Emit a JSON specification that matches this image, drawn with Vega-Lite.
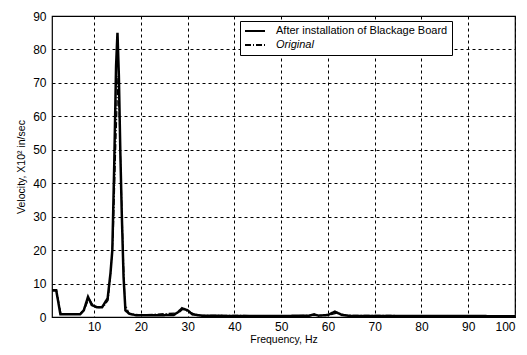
{
  "$schema": "https://vega.github.io/schema/vega-lite/v6.json",
  "autosize": {"type": "none"},
  "width": 463,
  "height": 301,
  "padding": {"left": 52, "top": 16, "right": 12, "bottom": 38},
  "background": "white",
  "config": {
    "font": "Liberation Sans",
    "view": {"stroke": "black", "strokeWidth": 1.2},
    "axis": {
      "domain": false,
      "ticks": false,
      "gridColor": "black",
      "gridOpacity": 1,
      "gridWidth": 1,
      "gridDash": [3, 3],
      "labelColor": "black",
      "labelFontSize": 12,
      "titleColor": "black",
      "titleFontSize": 10.5,
      "titleFontWeight": "normal"
    }
  },
  "data": {
    "values": [
      {"f": 1, "v": 8, "s": "After installation of Blackage Board"},
      {"f": 1.9, "v": 8, "s": "After installation of Blackage Board"},
      {"f": 2.8, "v": 0.8, "s": "After installation of Blackage Board"},
      {"f": 4, "v": 0.8, "s": "After installation of Blackage Board"},
      {"f": 7, "v": 0.8, "s": "After installation of Blackage Board"},
      {"f": 7.8, "v": 2, "s": "After installation of Blackage Board"},
      {"f": 8.7, "v": 6, "s": "After installation of Blackage Board"},
      {"f": 9.5, "v": 3.6, "s": "After installation of Blackage Board"},
      {"f": 10.6, "v": 2.9, "s": "After installation of Blackage Board"},
      {"f": 11.7, "v": 2.9, "s": "After installation of Blackage Board"},
      {"f": 12.9, "v": 5.6, "s": "After installation of Blackage Board"},
      {"f": 13.5, "v": 13, "s": "After installation of Blackage Board"},
      {"f": 13.9, "v": 20, "s": "After installation of Blackage Board"},
      {"f": 14.3, "v": 45, "s": "After installation of Blackage Board"},
      {"f": 14.7, "v": 75, "s": "After installation of Blackage Board"},
      {"f": 15.0, "v": 85, "s": "After installation of Blackage Board"},
      {"f": 15.3, "v": 72, "s": "After installation of Blackage Board"},
      {"f": 15.6, "v": 50, "s": "After installation of Blackage Board"},
      {"f": 15.9, "v": 32, "s": "After installation of Blackage Board"},
      {"f": 16.3, "v": 12, "s": "After installation of Blackage Board"},
      {"f": 16.7, "v": 2, "s": "After installation of Blackage Board"},
      {"f": 17.5, "v": 1, "s": "After installation of Blackage Board"},
      {"f": 19, "v": 0.5, "s": "After installation of Blackage Board"},
      {"f": 22, "v": 0.5, "s": "After installation of Blackage Board"},
      {"f": 27, "v": 0.6, "s": "After installation of Blackage Board"},
      {"f": 28, "v": 1.5, "s": "After installation of Blackage Board"},
      {"f": 28.8, "v": 2.6, "s": "After installation of Blackage Board"},
      {"f": 30, "v": 2, "s": "After installation of Blackage Board"},
      {"f": 31, "v": 0.8, "s": "After installation of Blackage Board"},
      {"f": 33, "v": 0.4, "s": "After installation of Blackage Board"},
      {"f": 40, "v": 0.3, "s": "After installation of Blackage Board"},
      {"f": 50, "v": 0.3, "s": "After installation of Blackage Board"},
      {"f": 56, "v": 0.4, "s": "After installation of Blackage Board"},
      {"f": 57, "v": 0.8, "s": "After installation of Blackage Board"},
      {"f": 58, "v": 0.4, "s": "After installation of Blackage Board"},
      {"f": 60, "v": 0.6, "s": "After installation of Blackage Board"},
      {"f": 61.5, "v": 1.6, "s": "After installation of Blackage Board"},
      {"f": 63, "v": 0.6, "s": "After installation of Blackage Board"},
      {"f": 65, "v": 0.3, "s": "After installation of Blackage Board"},
      {"f": 70, "v": 0.3, "s": "After installation of Blackage Board"},
      {"f": 80, "v": 0.3, "s": "After installation of Blackage Board"},
      {"f": 90, "v": 0.3, "s": "After installation of Blackage Board"},
      {"f": 100, "v": 0.2, "s": "After installation of Blackage Board"},
      {"f": 1, "v": 7.8, "s": "Original"},
      {"f": 2, "v": 7.8, "s": "Original"},
      {"f": 2.9, "v": 1, "s": "Original"},
      {"f": 7, "v": 1, "s": "Original"},
      {"f": 8, "v": 2.5, "s": "Original"},
      {"f": 8.9, "v": 5.5, "s": "Original"},
      {"f": 9.8, "v": 3.5, "s": "Original"},
      {"f": 11, "v": 2.8, "s": "Original"},
      {"f": 12, "v": 3, "s": "Original"},
      {"f": 13, "v": 5, "s": "Original"},
      {"f": 13.6, "v": 14, "s": "Original"},
      {"f": 14.1, "v": 25, "s": "Original"},
      {"f": 14.6, "v": 50, "s": "Original"},
      {"f": 15.1, "v": 72, "s": "Original"},
      {"f": 15.4, "v": 60, "s": "Original"},
      {"f": 15.8, "v": 40, "s": "Original"},
      {"f": 16.2, "v": 20, "s": "Original"},
      {"f": 16.6, "v": 4, "s": "Original"},
      {"f": 17.5, "v": 1, "s": "Original"},
      {"f": 20, "v": 0.6, "s": "Original"},
      {"f": 28, "v": 1.2, "s": "Original"},
      {"f": 29, "v": 2.3, "s": "Original"},
      {"f": 30.5, "v": 1.5, "s": "Original"},
      {"f": 32, "v": 0.5, "s": "Original"},
      {"f": 50, "v": 0.4, "s": "Original"},
      {"f": 60, "v": 0.5, "s": "Original"},
      {"f": 62, "v": 1.2, "s": "Original"},
      {"f": 64, "v": 0.5, "s": "Original"},
      {"f": 100, "v": 0.3, "s": "Original"}
    ]
  },
  "encoding": {
    "x": {
      "field": "f", "type": "quantitative",
      "scale": {"domain": [1, 100], "nice": false, "zero": false},
      "axis": {"values": [10, 20, 30, 40, 50, 60, 70, 80, 90, 100], "title": "Frequency, Hz", "labelPadding": 4, "titlePadding": 2}
    },
    "y": {
      "field": "v", "type": "quantitative",
      "scale": {"domain": [0, 90], "nice": false},
      "axis": {"values": [0, 10, 20, 30, 40, 50, 60, 70, 80, 90], "title": "Velocity, X10² in/sec", "labelPadding": 6, "titlePadding": 6}
    },
    "strokeDash": {
      "field": "s", "type": "nominal",
      "scale": {"domain": ["After installation of Blackage Board", "Original"], "range": [[1, 0], [6, 2, 1, 2]]},
      "legend": {
        "title": null,
        "orient": "none",
        "legendX": 188,
        "legendY": 5,
        "symbolType": "stroke",
        "symbolSize": 400,
        "symbolStrokeWidth": 2,
        "symbolStrokeColor": "black",
        "labelFontSize": 11,
        "labelColor": "black",
        "labelOffset": 10,
        "labelFontStyle": {"expr": "datum.label == 'Original' ? 'italic' : 'normal'"},
        "clipHeight": 12,
        "rowPadding": 2,
        "padding": 4,
        "strokeColor": "black",
        "fillColor": "white",
        "labelLimit": 300
      }
    }
  },
  "layer": [
    {
      "transform": [{"filter": "datum.s == 'After installation of Blackage Board'"}],
      "mark": {"type": "line", "clip": true, "color": "black", "strokeWidth": 2.5}
    },
    {
      "transform": [{"filter": "datum.s == 'Original'"}],
      "mark": {"type": "line", "clip": true, "color": "black", "strokeWidth": 1.3}
    }
  ]
}
